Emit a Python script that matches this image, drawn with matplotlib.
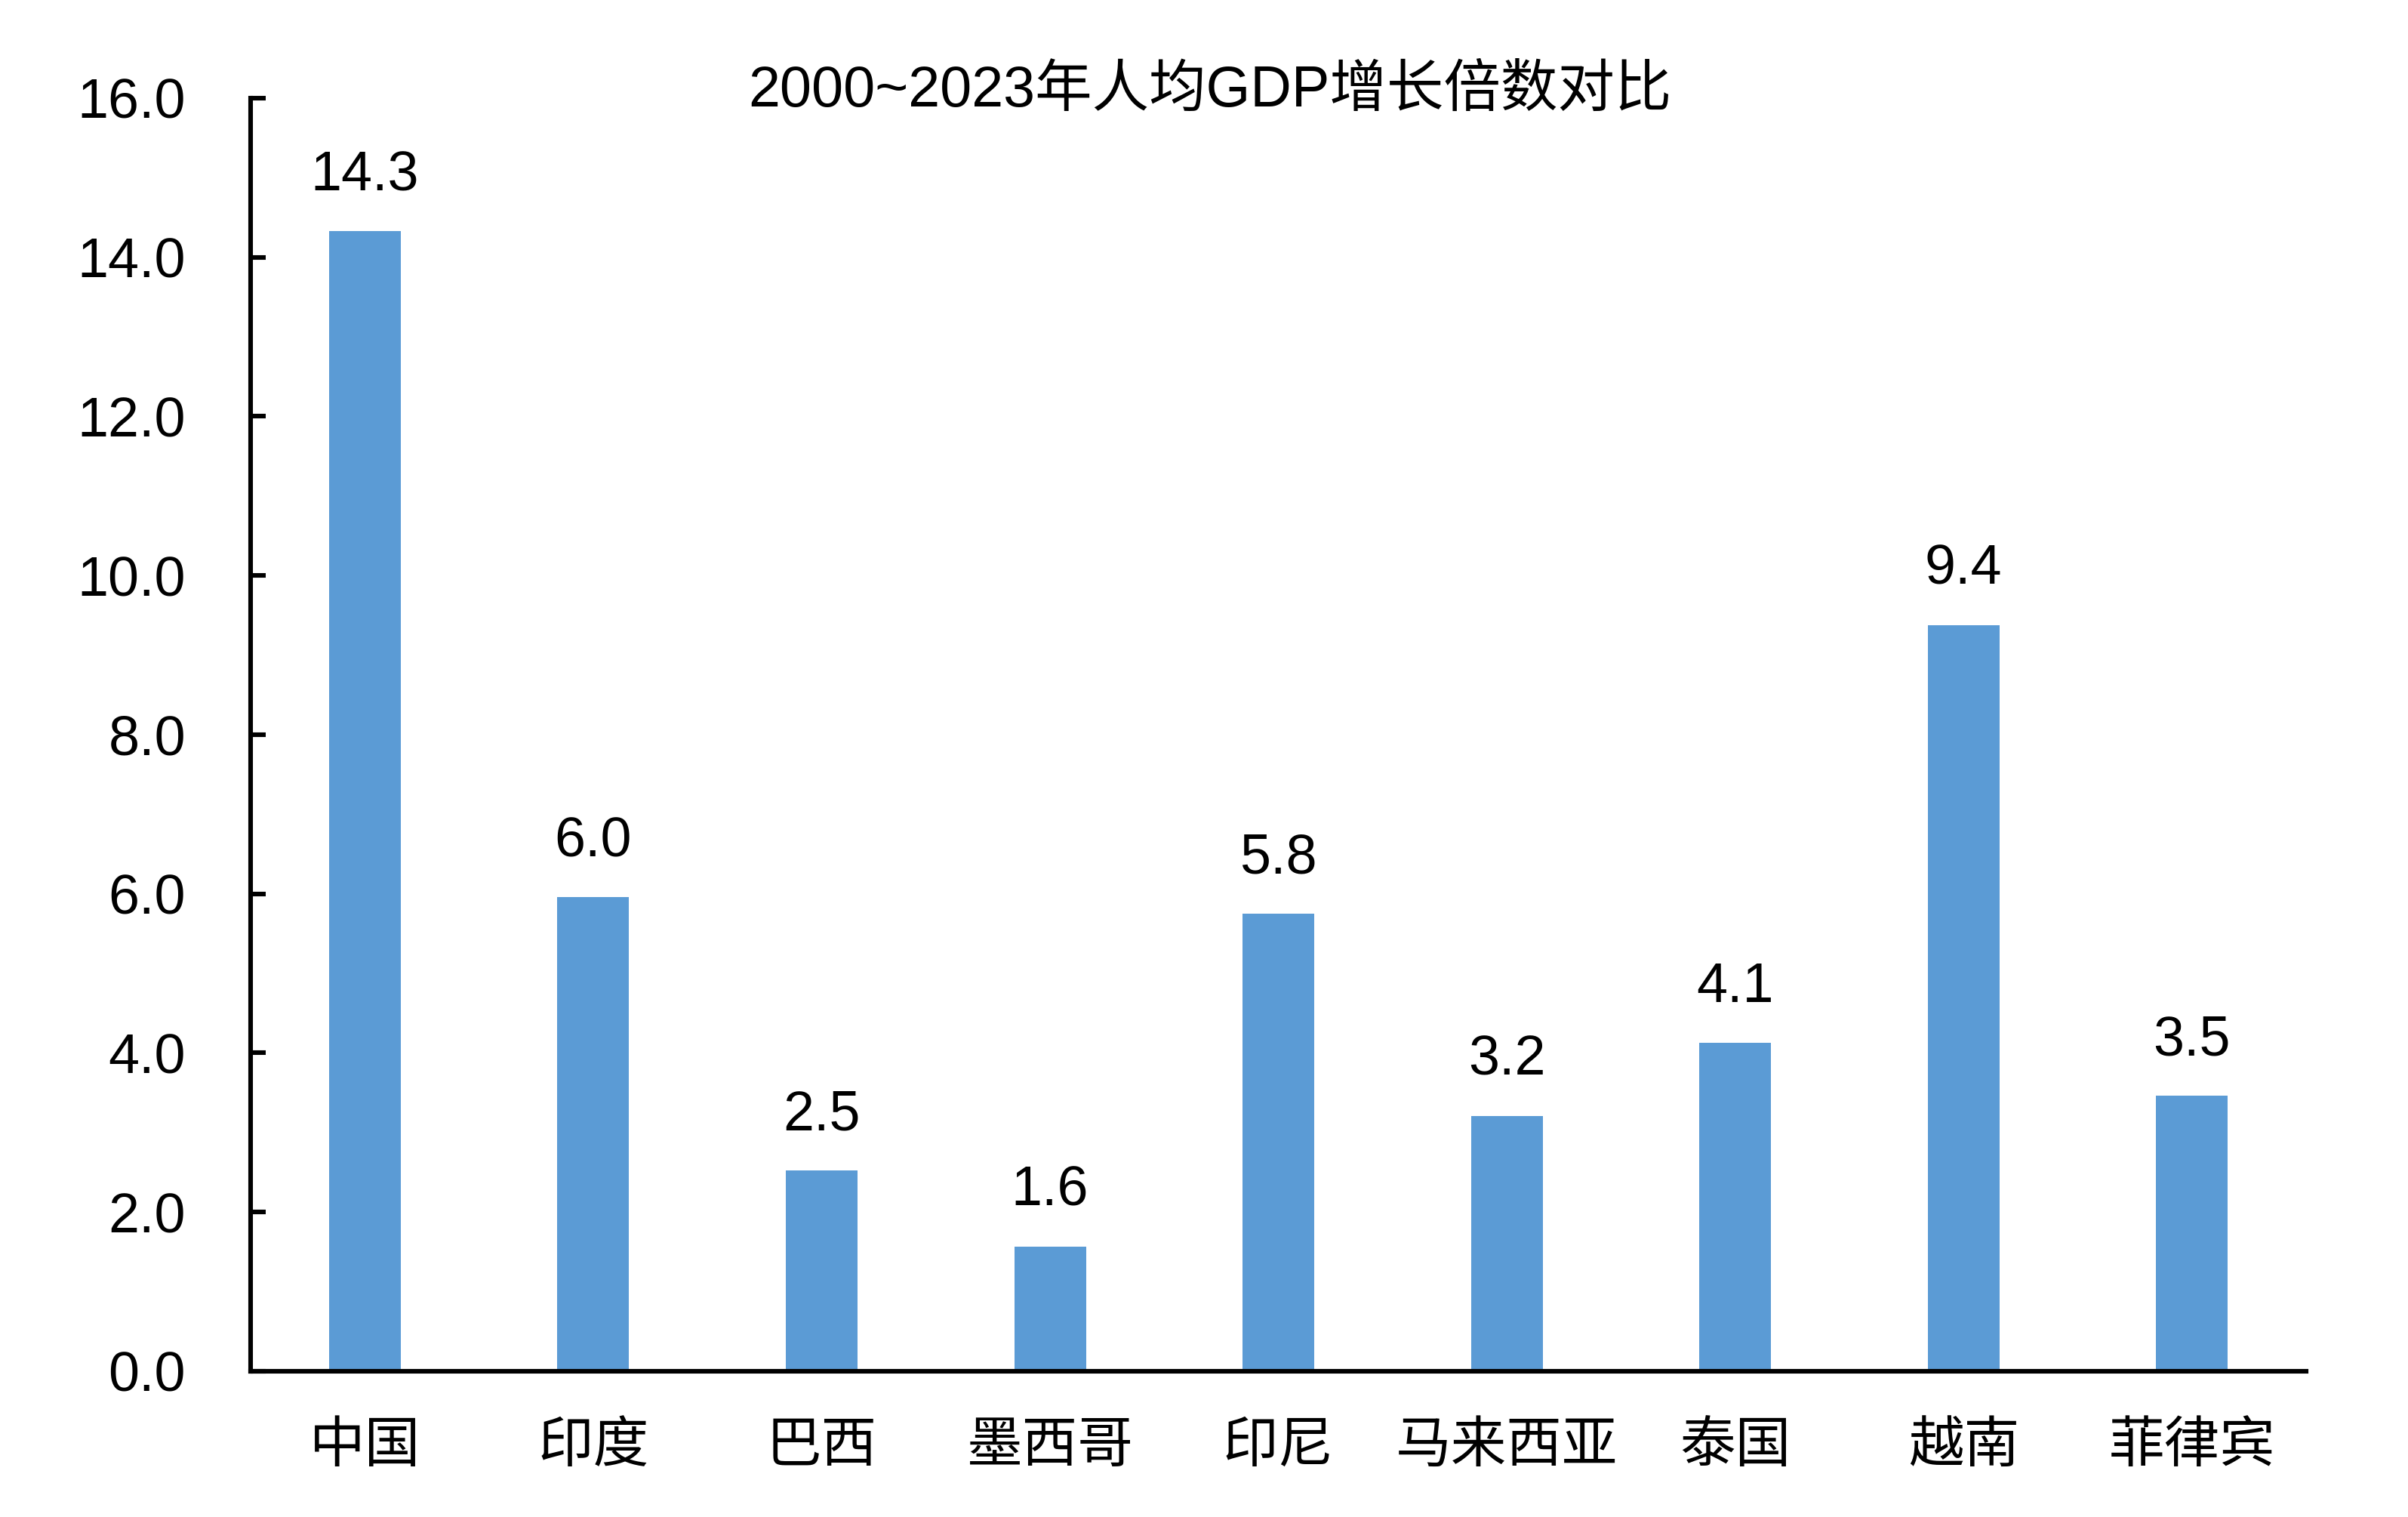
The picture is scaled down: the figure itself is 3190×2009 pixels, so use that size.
import matplotlib.pyplot as plt
import numpy as np

countries = ['中国', '印度', '巴西', '墨西哥', '印尼', '马来西亚', '泰国', '越南', '菲律宾']
growth = [14.33, 5.96, 2.52, 1.57, 5.75, 3.21, 4.13, 9.38, 3.46]
yticks = [0.0, 2.0, 4.0, 6.0, 8.0, 10.0, 12.0, 14.0, 16.0]

plt.rcParams['font.family'] = ['Liberation Sans', 'Noto Sans CJK SC', 'DejaVu Sans']

fig = plt.figure(figsize=(15.95, 10.045), dpi=200)
ax = fig.add_axes([0.1041, 0.0961, 0.8536, 0.8392])

x = np.arange(len(countries))
ax.bar(x, growth, width=0.314, color='#5B9BD5')

# 数据标签
for xi, v in zip(x, growth):
    ax.annotate(f'{v:.1f}', (xi, v), xytext=(0, 14), textcoords='offset points',
                ha='center', va='bottom', fontsize=26.5, color='black')

ax.set_xlim(-0.5, len(countries) - 0.5)
ax.set_ylim(0, 16)
ax.set_yticks(yticks)
ax.set_yticklabels([f'{t:.1f}' for t in yticks], fontsize=26.5)
ax.set_xticks(x)
ax.set_xticklabels(countries, fontsize=26.5, family=['Noto Sans CJK SC'])

ax.tick_params(axis='y', direction='in', length=7.2, width=2.2, pad=31)
ax.tick_params(axis='x', length=0, pad=22)

for s in ['top', 'right']:
    ax.spines[s].set_visible(False)
for s in ['left', 'bottom']:
    ax.spines[s].set_linewidth(2.2)

fig.text(0.5025, 0.930, '2000~2023年人均GDP增长倍数对比', ha='center', va='baseline',
         fontsize=27.2, color='black')

fig.savefig('out.png', dpi=200)
